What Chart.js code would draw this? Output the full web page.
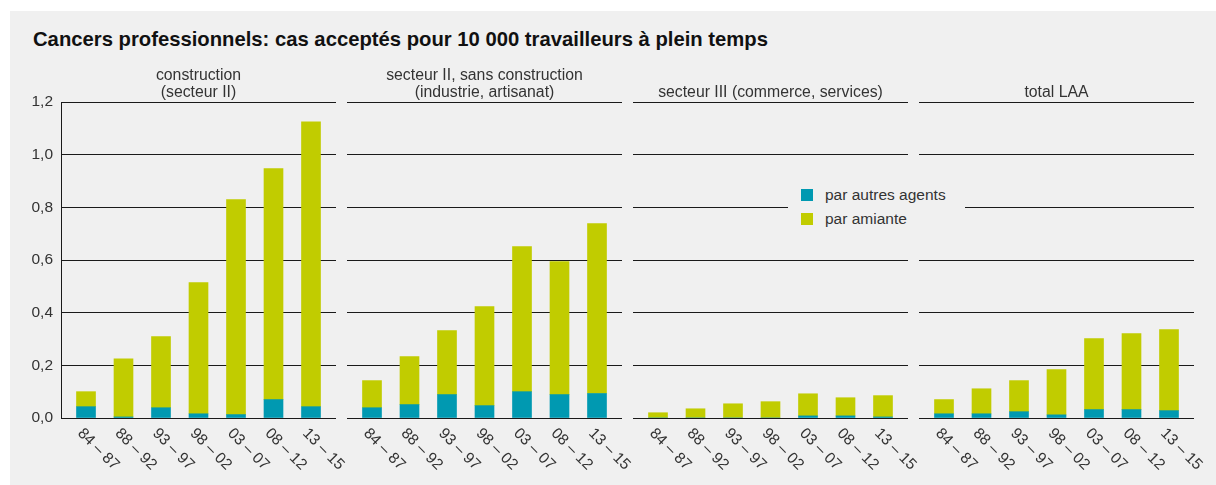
<!DOCTYPE html>
<html lang="fr">
<head>
<meta charset="utf-8">
<script src="https://cdn.jsdelivr.net/npm/chart.js@4/dist/chart.umd.min.js"></script>
<style>
  html, body { margin: 0; padding: 0; background: #fff; }
  #frame { position: relative; width: 1216px; height: 485px; overflow: hidden;
           font-family: "Liberation Sans", Arial, Helvetica, sans-serif; }
  #panel { position: absolute; left: 10px; top: 11px; right: 0; bottom: 0; background: #f0f0f0; }
  #title { position: absolute; left: 33px; top: 27px; font-size: 20.25px; line-height: 24px;
           font-weight: bold; color: #111; white-space: nowrap; }
  canvas { position: absolute; left: 0; top: 0; }
  #legend { position: absolute; left: 788px; top: 180px; width: 177px; height: 56px; background: #f0f0f0; z-index: 5; }
  .sw { position: absolute; left: 13px; width: 12px; height: 12px; }
  .lb { position: absolute; left: 37px; font-size: 15.5px; line-height: 17px; color: #333; white-space: nowrap; }
</style>
</head>
<body>
<div id="frame">
  <div id="panel"></div>
  <div id="title">Cancers professionnels: cas acceptés pour 10 000 travailleurs à plein temps</div>
  <canvas id="c0" width="1216" height="485"></canvas>
  <canvas id="c1" width="1216" height="485"></canvas>
  <canvas id="c2" width="1216" height="485"></canvas>
  <canvas id="c3" width="1216" height="485"></canvas>
  <div id="legend"></div>
</div>
<script>
// Periods (years) shared by all four panels
const periods = ['84 – 87', '88 – 92', '93 – 97', '98 – 02', '03 – 07', '08 – 12', '13 – 15'];

// Cases per 10 000 full-time workers, split by cause
const constructionOther    = [0.043, 0.004, 0.039, 0.016, 0.013, 0.070, 0.043];
const constructionAsbestos = [0.057, 0.221, 0.270, 0.498, 0.816, 0.877, 1.082];

const industryOther        = [0.039, 0.051, 0.089, 0.047, 0.100, 0.089, 0.093];
const industryAsbestos     = [0.103, 0.182, 0.243, 0.376, 0.551, 0.505, 0.645];

const servicesOther        = [0.000, 0.000, 0.000, 0.000, 0.008, 0.008, 0.004];
const servicesAsbestos     = [0.020, 0.035, 0.054, 0.062, 0.084, 0.069, 0.081];

const totalOther           = [0.016, 0.016, 0.024, 0.012, 0.032, 0.032, 0.028];
const totalAsbestos        = [0.054, 0.095, 0.118, 0.172, 0.270, 0.289, 0.308];

const yTicks = [0, 0.2, 0.4, 0.6, 0.8, 1.0, 1.2];

const seriesNames = ['par autres agents', 'par amiante'];
const seriesColors = ['#0099b1', '#c1cc00'];

const panels = [
  { heading: ['construction', '(secteur II)'], other: constructionOther, asbestos: constructionAsbestos },
  { heading: ['secteur II, sans construction', '(industrie, artisanat)'], other: industryOther, asbestos: industryAsbestos },
  { heading: ['secteur III (commerce, services)'], other: servicesOther, asbestos: servicesAsbestos },
  { heading: ['total LAA'], other: totalOther, asbestos: totalAsbestos }
];

const FONT = '"Liberation Sans", Arial, Helvetica, sans-serif';
const TEXT = '#333';
const LINE = '#1a1a1a';

// Panel geometry on the shared page
const firstLeft = 61, panelWidth = 275, panelStep = 286;
const plotTop = 102, plotBottom = 418, pageW = 1216, pageH = 485;
const edge = 0.6667; // room left and right of the outer bars, in category units

// Heading above each panel + rotated period labels below it
const panelText = {
  id: 'panelText',
  afterDraw(chart, args, opts) {
    const { ctx, chartArea } = chart;
    const xs = chart.scales.x;
    ctx.save();
    ctx.fillStyle = TEXT;
    ctx.textBaseline = 'alphabetic';
    ctx.textAlign = 'center';
    ctx.font = '15.8px ' + FONT;
    const cx = (chartArea.left + chartArea.right) / 2;
    const n = opts.lines.length;
    opts.lines.forEach((t, j) => {
      ctx.fillText(t, cx, chartArea.top - 5 - (n - 1 - j) * 17);
    });
    ctx.font = '15.5px ' + FONT;
    periods.forEach((p, i) => {
      const px = xs.getPixelForValue(i);
      ctx.save();
      ctx.translate(px - 6, chartArea.bottom + 13);
      ctx.rotate(Math.PI / 4);
      ctx.textAlign = 'left';
      ctx.textBaseline = 'middle';
      ctx.fillText(p, 0, 0);
      ctx.restore();
    });
    ctx.restore();
  }
};

panels.forEach((pnl, k) => {
  const left = firstLeft + k * panelStep;
  const right = left + panelWidth;
  const first = k === 0;
  const toPoints = arr => arr.map((v, i) => ({ x: i, y: v }));
  new Chart(document.getElementById('c' + k), {
    type: 'bar',
    data: {
      datasets: [
        { label: seriesNames[0], data: toPoints(pnl.other), backgroundColor: seriesColors[0], borderWidth: 0, barThickness: 19 },
        { label: seriesNames[1], data: toPoints(pnl.asbestos), backgroundColor: seriesColors[1], borderWidth: 0, barThickness: 19 }
      ]
    },
    options: {
      responsive: false,
      animation: false,
      events: [],
      layout: { padding: { left: first ? 10 : left, right: pageW - right, top: plotTop, bottom: pageH - plotBottom } },
      plugins: { legend: { display: false }, tooltip: { enabled: false }, panelText: { lines: pnl.heading } },
      scales: {
        x: { type: 'linear', display: false, stacked: true, offset: false, grid: { offset: false },
             min: -edge, max: periods.length - 1 + edge },
        y: {
          stacked: true, min: yTicks[0], max: yTicks[yTicks.length - 1],
          afterBuildTicks: s => { s.ticks = yTicks.map(v => ({ value: v })); },
          afterFit: s => { s.width = first ? 51 : 0; },
          ticks: {
            display: first, padding: 8, color: TEXT, font: { family: FONT, size: 15.5 },
            callback: v => Number(v).toFixed(1).replace('.', ',')
          },
          grid: { color: LINE, lineWidth: 1, drawTicks: false },
          border: { display: first, color: LINE, width: 1 }
        }
      }
    },
    plugins: [panelText]
  });
});

// Legend box, floating over panels three and four
const legend = document.getElementById('legend');
seriesNames.forEach((name, i) => {
  const sw = document.createElement('div');
  sw.className = 'sw';
  sw.style.top = (9 + i * 24) + 'px';
  sw.style.background = seriesColors[i];
  const lb = document.createElement('div');
  lb.className = 'lb';
  lb.style.top = (6 + i * 24) + 'px';
  lb.textContent = name;
  legend.appendChild(sw);
  legend.appendChild(lb);
});
</script>
</body>
</html>
